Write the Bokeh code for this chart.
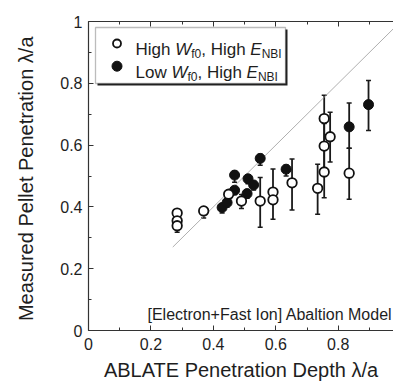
from bokeh.plotting import figure
from bokeh.models import (ColumnDataSource, Whisker, TeeHead, Label, BoxAnnotation,
                          LinearAxis, FixedTicker, Range1d)
from bokeh.embed import file_html
from bokeh.resources import INLINE

# ---------------- data ----------------
hi_x = [0.284, 0.284, 0.284, 0.369, 0.449, 0.490, 0.550, 0.591, 0.591, 0.652,
        0.734, 0.755, 0.755, 0.755, 0.774, 0.835]
hi_y = [0.380, 0.355, 0.339, 0.387, 0.441, 0.419, 0.419, 0.448, 0.423, 0.478,
        0.460, 0.513, 0.597, 0.686, 0.627, 0.509]
hi_lo = [0.370, 0.345, 0.318, 0.364, 0.430, 0.395, 0.334, 0.420, 0.360, 0.390,
         0.376, 0.430, 0.520, 0.610, 0.545, 0.425]
hi_hi = [0.390, 0.365, 0.360, 0.400, 0.452, 0.440, 0.495, 0.523, 0.450, 0.555,
         0.538, 0.590, 0.670, 0.761, 0.706, 0.590]

lo_x = [0.428, 0.444, 0.468, 0.468, 0.508, 0.511, 0.529, 0.550, 0.633, 0.835, 0.897]
lo_y = [0.398, 0.414, 0.454, 0.503, 0.443, 0.491, 0.471, 0.557, 0.522, 0.659, 0.731]
lo_lo = [0.380, 0.400, 0.440, 0.480, 0.428, 0.475, 0.455, 0.535, 0.500, 0.590, 0.647]
lo_hi = [0.410, 0.425, 0.465, 0.515, 0.455, 0.500, 0.482, 0.570, 0.535, 0.736, 0.809]

diag_x = [0.27, 1.0]
diag_y = [0.27, 1.0]

x_ticks = [0, 0.2, 0.4, 0.6, 0.8]
x_tick_labels = ["0", "0.2", "0.4", "0.6", "0.8"]
y_ticks = [0, 0.2, 0.4, 0.6, 0.8, 1.0]
y_tick_labels = ["0", "0.2", "0.4", "0.6", "0.8", "1"]
minor_ticks = [0.1, 0.3, 0.5, 0.7, 0.9]

x_title = "ABLATE Penetration Depth \u03bb/a"
y_title = "Measured Pellet Penetration  \u03bb/a"
note = "[Electron+Fast Ion] Abaltion Model"

# ---------------- layout ----------------
W, H = 393, 387
FL, FT, FB = 88, 21, 57
X_END = 0.977
FW = W - FL
FH = H - FT - FB
FONT = "Liberation Sans"
TXT = "#1e1e1e"

def dx(px):
    return (px - FL) / FW * X_END

def dy(py):
    return (FT + FH - py) / FH

p = figure(width=W, height=H, output_backend="svg", toolbar_location=None,
           x_range=Range1d(0, X_END), y_range=Range1d(0, 1),
           min_border_left=FL, min_border_top=FT, min_border_bottom=FB,
           min_border_right=0, x_axis_location=None, y_axis_location=None)
p.outline_line_color = None
p.xgrid.visible = False
p.ygrid.visible = False
p.background_fill_color = "white"
p.border_fill_color = "white"

def style_axis(ax, ticks, labels, show_labels=True):
    ax.ticker = FixedTicker(ticks=ticks, minor_ticks=minor_ticks)
    ax.major_label_overrides = {t: l for t, l in zip(ticks, labels)}
    ax.axis_line_color = "#333333"
    ax.axis_line_width = 1.2
    ax.major_tick_in = 5
    ax.major_tick_out = 0
    ax.minor_tick_in = 3
    ax.minor_tick_out = 0
    ax.major_tick_line_color = "#333333"
    ax.minor_tick_line_color = "#333333"
    ax.major_label_text_font = FONT
    ax.major_label_text_font_size = "16px"
    ax.major_label_text_color = TXT
    ax.axis_label_text_font = FONT
    ax.axis_label_text_font_style = "normal"
    ax.axis_label_text_font_size = "20px"
    ax.axis_label_text_color = TXT
    if not show_labels:
        ax.major_label_text_font_size = "0px"
        ax.major_label_text_color = None

xb = LinearAxis(axis_label=x_title)
style_axis(xb, x_ticks, x_tick_labels)
xb.major_label_standoff = 7
xb.axis_label_standoff = 6
p.add_layout(xb, "below")

yl = LinearAxis(axis_label=y_title)
style_axis(yl, y_ticks, y_tick_labels)
yl.major_label_standoff = 6
yl.axis_label_standoff = 20
p.add_layout(yl, "left")

xt = LinearAxis()
style_axis(xt, x_ticks + [1.0], x_tick_labels + [""], show_labels=False)
p.add_layout(xt, "above")

# diagonal reference line
p.line(diag_x, diag_y, line_color="#9a9a9a", line_width=0.8)

# error bars
src_hi = ColumnDataSource(dict(x=hi_x, y=hi_y, lower=hi_lo, upper=hi_hi))
src_lo = ColumnDataSource(dict(x=lo_x, y=lo_y, lower=lo_lo, upper=lo_hi))
for src in (src_hi, src_lo):
    w = Whisker(base="x", upper="upper", lower="lower", source=src, dimension="height",
                line_color="#1a1a1a", line_width=1.8,
                upper_head=TeeHead(size=5, line_width=1.5, line_color="#1a1a1a"),
                lower_head=TeeHead(size=5, line_width=1.5, line_color="#1a1a1a"))
    p.add_layout(w)

p.scatter("x", "y", source=src_lo, size=10, fill_color="#111111", line_color="#111111")
p.scatter("x", "y", source=src_hi, size=9.5, fill_color="white", line_color="#111111",
          line_width=1.8)

# annotation
p.add_layout(Label(x=dx(392), y=dy(314), text=note, text_align="right",
                   text_baseline="alphabetic", text_font=FONT, text_font_size="16px",
                   text_color=TXT))

# ---------------- legend (manual, with sub-scripts) ----------------
p.add_layout(BoxAnnotation(left=dx(97), right=dx(287), top=dy(29), bottom=dy(85),
                           fill_color="#222222", fill_alpha=1, line_color=None,
                           level="annotation"))
p.add_layout(BoxAnnotation(left=dx(95), right=dx(285), top=dy(27), bottom=dy(83),
                           fill_color="white", fill_alpha=1, line_color="#222222",
                           line_width=1.3, level="annotation"))

AW = {'H': .722, 'i': .222, 'g': .556, 'h': .556, ' ': .278, 'W': .944, 'f': .278,
      '0': .556, ',': .278, 'E': .667, 'N': .722, 'B': .667, 'I': .278, 'L': .556,
      'o': .556, 'w': .722}

def tw(s, size):
    return sum(AW.get(c, .556) for c in s) * size

legend_rows = [
    ("High ", "circle_open"),
    ("Low ", "circle_full"),
]
MAIN, SUB = 17, 12
for i, (first, kind) in enumerate(legend_rows):
    base = 49.3 + i * 22.7
    pieces = [(first, MAIN, "normal", 0), ("W", MAIN, "italic", 0), ("f0", SUB, "normal", 4),
              (", High ", MAIN, "normal", 0), ("E", MAIN, "italic", 0), ("NBI", SUB, "normal", 4)]
    xpx = 135
    for txt, sz, st, drop in pieces:
        p.add_layout(Label(x=dx(xpx), y=dy(base + drop), text=txt, text_font=FONT,
                           text_font_size=f"{sz}px", text_font_style=st,
                           text_baseline="alphabetic", text_color=TXT))
        xpx += tw(txt, sz)
    cy = base - 6.3
    if kind == "circle_open":
        r = p.scatter([dx(116.5)], [dy(cy)], size=8, fill_color="white", line_color="#111111",
                      line_width=1.8)
    else:
        r = p.scatter([dx(116.5)], [dy(cy)], size=10, fill_color="#111111", line_color="#111111")
    r.level = "overlay"

open("out.html", "w").write(file_html(p, INLINE))
